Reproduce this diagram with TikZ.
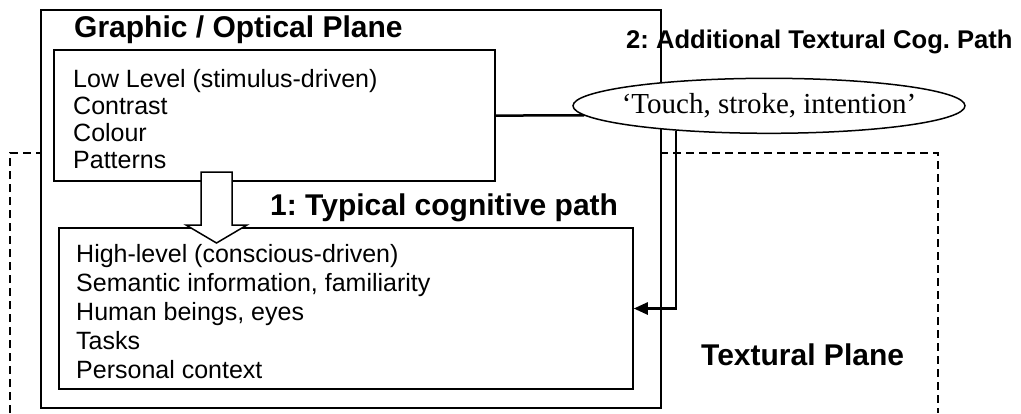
\documentclass[tikz,border=0pt]{standalone}
\usepackage{fontspec}
\setmainfont{Liberation Sans}
\newfontfamily\quotefont{Liberation Serif}
\usetikzlibrary{shapes.geometric,arrows.meta}
\tikzset{
	planebox/.style={draw, line width=1.5pt, fill=white, inner sep=0pt},
	levelbox/.style={draw, line width=1.5pt, fill=white, inner sep=0pt},
	planedash/.style={line width=1.3pt, dash pattern=on 8pt off 5pt},
	headline/.style={anchor=base west, inner sep=0pt, font=\bfseries\fontsize{30}{36}\selectfont},
	listtext/.style={anchor=north west, inner sep=0pt, align=left},
	conn/.style={line width=2.5pt},
	touchbox/.style={ellipse, draw, line width=1.5pt, fill=white, inner sep=0pt,
		minimum width=392pt, minimum height=55pt, font=\quotefont\fontsize{29}{34}\selectfont}
}

\begin{document}
\frenchspacing
\begin{tikzpicture}[x=1pt, y=-1pt]
			%%%%% START %%%%%
			\useasboundingbox (0,0) rectangle (1021,413);
			
			% textural plane (cut at the bottom)
			\draw[planedash] (10,413) -- (10,153) -- (938,153) -- (938,413);
			
			% graphic / optical plane
			\node[planebox, minimum width=620pt, minimum height=398pt] (optical) at (351,209) {};
			\node[headline] (opticaltitle) at (74,37) {Graphic / Optical Plane};
			
			\node[levelbox, minimum width=441pt, minimum height=131pt] (low) at (274.5,115.5) {};
			\node[listtext, font=\fontsize{25}{27}\selectfont] (lowtxt) at (73,69)
				{Low Level (stimulus-driven)\\Contrast\\Colour\\Patterns};
			
			\node[levelbox, minimum width=574pt, minimum height=161pt] (high) at (346,308.5) {};
			\node[listtext, font=\fontsize{25}{29}\selectfont] (hightxt) at (76,244)
				{High-level (conscious-driven)\\Semantic information, familiarity\\Human beings, eyes\\Tasks\\Personal context};
			
			% path 1
			\draw[line width=1.5pt, fill=white] (201,172) -- (232,172) -- (232,225) -- (247,225)
				-- (216.5,243) -- (186,225) -- (201,225) -- cycle;
			\node[headline] (typical) at (270,215) {1: Typical cognitive path};
			
			% path 2
			\node[headline, font=\bfseries\fontsize{25.6}{30}\selectfont] (additional) at (626,48) {2: Additional Textural Cog. Path};
			\node[touchbox] (touch) at (769,105.8) {\makebox[0pt]{‘Touch, stroke, intention’}};
			\draw[conn] (low.east) -- (touch.183);
			\draw[conn, -{Triangle[length=14pt, width=12pt]}] (touch.195) |- (high.east);
			
			\node[headline] (textural) at (701,365) {Textural Plane};
			%%%%% END %%%%%
		\end{tikzpicture}
\end{document}
